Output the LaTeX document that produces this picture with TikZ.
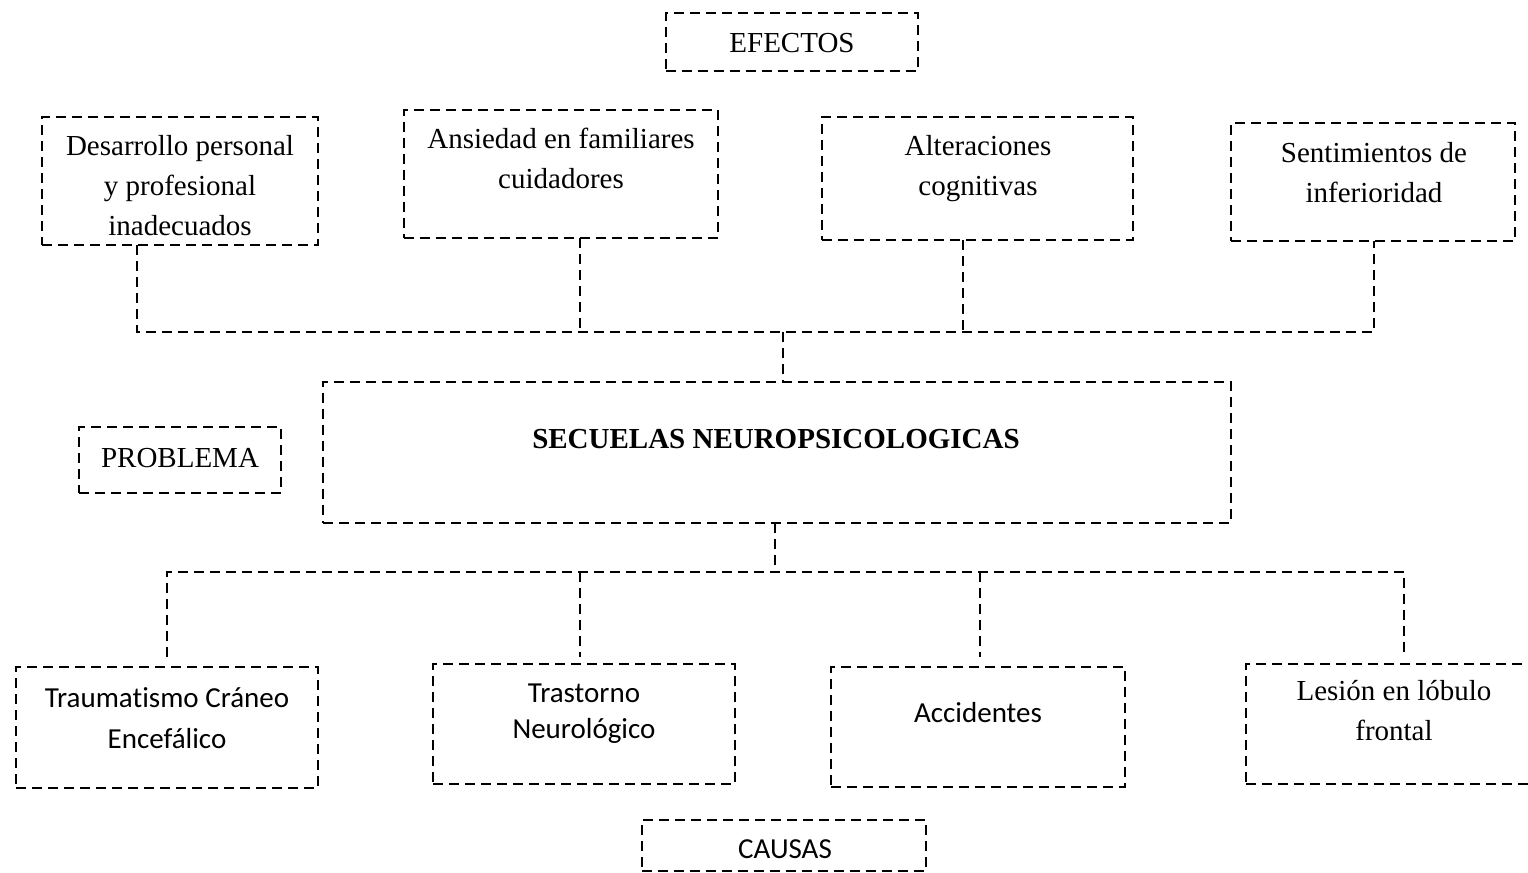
\documentclass[tikz,border=0pt]{standalone}
\usepackage{fontspec}
\setmainfont{Liberation Serif}[Ligatures=NoCommon]
\newfontfamily\calfont{Carlito}[Ligatures=NoCommon]
\usetikzlibrary{fit}
\begin{document}
\begin{tikzpicture}[x=0.5pt,y=-0.5pt,
  box/.style={draw=black, line width=1.2pt, dash pattern=on 5pt off 3pt, inner sep=0pt, outer sep=0pt},
  conn/.style={draw=black, line width=1.2pt, dash pattern=on 5pt off 3pt},
  txt/.style={anchor=base, align=flush center, inner sep=0pt, font=\fontsize{14.5}{20}\selectfont},
  ctxt/.style={txt, font=\calfont\fontsize{14.5}{20}\selectfont}]
\useasboundingbox (0,0) rectangle (1528,873);
\clip (0,0) rectangle (1528,873);
% boxes
\node[box, fit={(666,13) (918,71)}] (efe) {};
\node[box, fit={(42,117) (318,245)}] (des) {};
\node[box, fit={(404,110) (718,238)}] (ans) {};
\node[box, fit={(822,117) (1133,240)}] (alt) {};
\node[box, fit={(1231,123) (1515,241)}] (sen) {};
\node[box, fit={(323,382) (1231,523)}] (sec) {};
\node[box, fit={(79,427) (281,493)}] (pro) {};
\node[box, fit={(16,667) (318,788)}] (tra) {};
\node[box, fit={(433,664) (735,784)}] (trs) {};
\node[box, fit={(831,667) (1125,787)}] (acc) {};
\node[box, fit={(1246,664) (1548,784)}] (les) {};
\node[box, fit={(642,820) (926,871)}] (cau) {};
% texts
\node[txt, text width=120pt] (efet) at (792,52) {EFECTOS};
\node[txt, text width=134pt] (dest) at (180,155) {Desarrollo personal\\y profesional\\inadecuados};
\node[txt, text width=154pt] (anst) at (561,148) {Ansiedad en familiares\\cuidadores};
\node[txt, text width=150pt] (altt) at (978,155) {Alteraciones\\cognitivas};
\node[txt, text width=140pt] (sent) at (1374,162) {Sentimientos de\\inferioridad};
\node[txt, text width=400pt, font=\bfseries\fontsize{14.5}{20}\selectfont] (sect) at (776,448) {SECUELAS NEUROPSICOLOGICAS};
\node[txt, text width=98pt] (prot) at (180,467) {PROBLEMA};
\node[ctxt, text width=148pt, font=\calfont\fontsize{14.5}{20.5}\selectfont] (trat) at (167,707) {Traumatismo Cráneo\\Encefálico};
\node[ctxt, text width=148pt, font=\calfont\fontsize{14.5}{18}\selectfont] (trst) at (584,702) {Trastorno\\Neurológico};
\node[ctxt, text width=140pt] (acct) at (978,722) {Accidentes};
\node[txt, text width=140pt] (lest) at (1394,700) {Lesión en lóbulo\\frontal};
\node[ctxt, text width=140pt] (caut) at (785,858) {CAUSAS};
% top connector
\coordinate (t1) at (137,332);
\coordinate (t2) at (580,332);
\coordinate (t3) at (963,332);
\coordinate (t4) at (1374,332);
\coordinate (tm) at (783,332);
\draw[conn] (des.south -| t1) -- (t1) -- (t4) -- (sen.south -| t4);
\draw[conn] (ans.south -| t2) -- (t2);
\draw[conn] (alt.south -| t3) -- (t3);
\draw[conn] (tm) -- (sec.north -| tm);
% bottom connector
\coordinate (b0) at (775,572);
\coordinate (b1) at (167,572);
\coordinate (b2) at (580,572);
\coordinate (b3) at (980,572);
\coordinate (b4) at (1404,572);
\coordinate (e1) at (167,657);
\coordinate (e2) at (580,657);
\coordinate (e3) at (980,657);
\coordinate (e4) at (1404,657);
\draw[conn] (sec.south -| b0) -- (b0);
\draw[conn] (e1) -- (b1) -- (b4) -- (e4);
\draw[conn] (b2) -- (e2);
\draw[conn] (b3) -- (e3);
\end{tikzpicture}
\end{document}
